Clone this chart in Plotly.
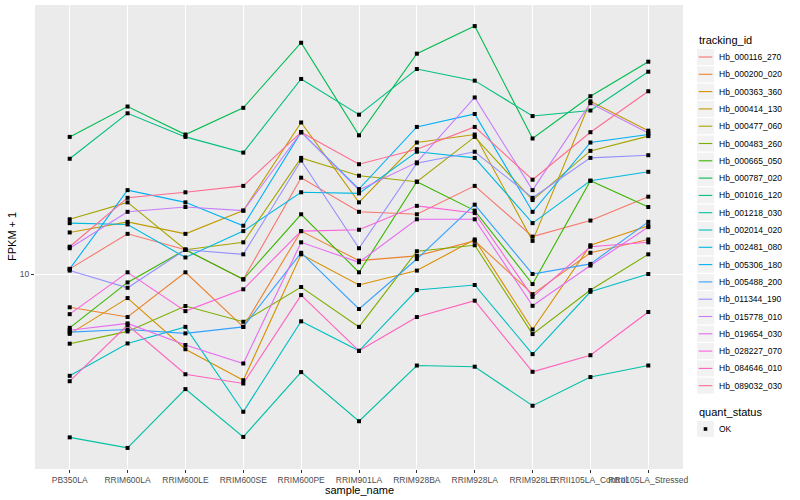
import math
import plotly.graph_objects as go

samples = ["PB350LA", "RRIM600LA", "RRIM600LE", "RRIM600SE", "RRIM600PE", "RRIM901LA",
           "RRIM928BA", "RRIM928LA", "RRIM928LE", "RRII105LA_Control", "RRII105LA_Stressed"]

tracking_ids = ["Hb_000116_270", "Hb_000200_020", "Hb_000363_360", "Hb_000414_130",
                "Hb_000477_060", "Hb_000483_260", "Hb_000665_050", "Hb_000787_020",
                "Hb_001016_120", "Hb_001218_030", "Hb_002014_020", "Hb_002481_080",
                "Hb_005306_180", "Hb_005488_200", "Hb_011344_190", "Hb_015778_010",
                "Hb_019654_030", "Hb_028227_070", "Hb_084646_010", "Hb_089032_030"]

colors = ["#F8766D", "#EA8331", "#D89000", "#C09B00", "#A3A500", "#7CAE00", "#39B600",
          "#00BB4E", "#00BF7D", "#00C1A3", "#00BFC4", "#00BAE0", "#00B0F6", "#35A2FF",
          "#9590FF", "#C77CFF", "#E76BF3", "#FA62DB", "#FF62BC", "#FF6C91"]

# FPKM + 1 per sample (same order as samples)
hb_000116_270 = [10.3, 12.6, 11.5, 9.70, 17.4, 14.3, 14.1, 16.6, 12.4, 13.6, 15.6]
hb_000200_020 = [8.26, 7.81, 10.1, 7.38, 12.8, 10.8, 11.1, 12.1, 8.91, 11.3, 12.2]
hb_000363_360 = [7.09, 8.71, 6.49, 5.43, 11.2, 9.39, 10.2, 12.2, 7.27, 11.8, 13.2]
hb_000414_130 = [12.7, 13.5, 12.6, 14.4, 23.9, 15.1, 21.3, 22.3, 12.1, 27.0, 22.8]
hb_000477_060 = [13.7, 15.1, 11.5, 12.0, 19.5, 17.6, 17.0, 22.0, 15.3, 20.3, 22.1]
hb_000483_260 = [6.70, 7.19, 8.32, 7.60, 9.28, 7.38, 11.4, 11.8, 7.08, 9.12, 11.2]
hb_000665_050 = [7.34, 9.53, 11.5, 9.70, 14.1, 10.1, 17.0, 14.4, 9.44, 17.1, 14.7]
hb_000787_020 = [22.0, 26.2, 22.3, 26.0, 37.8, 22.2, 35.5, 41.6, 21.8, 27.8, 33.9]
hb_001016_120 = [19.4, 25.2, 22.0, 20.1, 30.7, 25.0, 32.5, 30.4, 24.8, 25.6, 32.0]
hb_001218_030 = [3.91, 3.68, 5.16, 3.92, 5.69, 4.29, 5.91, 5.87, 4.69, 5.53, 5.91]
hb_002014_020 = [5.57, 6.71, 7.38, 4.53, 7.62, 6.43, 9.12, 9.39, 6.31, 9.03, 10.0]
hb_002481_080 = [13.4, 13.3, 11.0, 12.8, 16.0, 15.9, 20.2, 19.5, 13.4, 17.1, 18.0]
hb_005306_180 = [10.3, 16.2, 15.1, 13.2, 22.6, 16.3, 23.3, 25.1, 14.3, 21.3, 22.3]
hb_005488_200 = [7.16, 7.27, 7.11, 7.38, 11.3, 8.18, 10.9, 14.9, 10.0, 10.6, 13.5]
hb_011344_190 = [10.2, 9.24, 11.5, 11.2, 19.2, 11.6, 18.9, 20.2, 15.5, 19.5, 19.8]
hb_015778_010 = [11.6, 14.3, 14.7, 14.4, 22.6, 16.2, 19.0, 27.6, 16.2, 26.7, 22.5]
hb_019654_030 = [7.24, 7.53, 6.65, 5.98, 12.0, 10.7, 13.7, 13.7, 8.33, 10.5, 13.1]
hb_028227_070 = [7.94, 10.1, 8.08, 9.16, 12.8, 12.9, 14.8, 14.2, 8.77, 11.7, 12.0]
hb_084646_010 = [5.40, 7.46, 5.62, 5.33, 8.86, 6.43, 7.81, 8.58, 5.70, 6.27, 8.04]
hb_089032_030 = [11.7, 15.5, 16.0, 16.6, 22.6, 18.8, 20.5, 23.3, 17.2, 22.6, 28.6]

series = [hb_000116_270, hb_000200_020, hb_000363_360, hb_000414_130, hb_000477_060,
          hb_000483_260, hb_000665_050, hb_000787_020, hb_001016_120, hb_001218_030,
          hb_002014_020, hb_002481_080, hb_005306_180, hb_005488_200, hb_011344_190,
          hb_015778_010, hb_019654_030, hb_028227_070, hb_084646_010, hb_089032_030]

quant_status = ["OK"]
y_ticks = [10]

FONT = "Liberation Sans, Arial, Helvetica, sans-serif"
W, H = 800, 500
L, R, T, B = 35, 117, 5, 31
PW, PH = W - L - R, H - T - B

fig = go.Figure()

for tid, col, vals in zip(tracking_ids, colors, series):
    fig.add_trace(go.Scatter(x=samples, y=vals, mode="lines", name=tid,
                             line=dict(color=col, width=1.1), showlegend=False,
                             hoverinfo="skip"))

all_x, all_y = [], []
for vals in series:
    all_x += samples
    all_y += vals
fig.add_trace(go.Scatter(x=all_x, y=all_y, mode="markers", name=quant_status[0],
                         marker=dict(symbol="square", size=4, color="black"),
                         showlegend=False))

lo = math.log10(min(all_y))
hi = math.log10(max(all_y))
pad = (hi - lo) * 0.05

fig.update_layout(
    width=W, height=H,
    margin=dict(l=L, r=R, t=T, b=B, pad=0),
    paper_bgcolor="white", plot_bgcolor="#EBEBEB",
    font=dict(family=FONT, size=9, color="#4D4D4D"),
    xaxis=dict(type="category", categoryorder="array", categoryarray=samples,
               range=[-0.6, len(samples) - 0.4], tickangle=0,
               showgrid=True, gridcolor="white", gridwidth=1.1,
               ticks="outside", ticklen=3, tickcolor="#333333", tickwidth=1,
               tickfont=dict(size=8.5, color="#4D4D4D", family=FONT),
               zeroline=False, showline=False),
    yaxis=dict(type="log", range=[lo - pad, hi + pad],
               tickvals=y_ticks, ticktext=[str(v) for v in y_ticks],
               showgrid=True, gridcolor="white", gridwidth=1.1,
               ticks="outside", ticklen=3, tickcolor="#333333", tickwidth=1,
               tickfont=dict(size=8.5, color="#4D4D4D", family=FONT),
               zeroline=False, showline=False),
)

def px_to_paper(px, py):
    return (px - L) / PW, (H - B - py) / PH

annotations = []
shapes = []

# axis titles
ax, ay = px_to_paper(359, 490)
annotations.append(dict(x=ax, y=ay, xref="paper", yref="paper", text="sample_name",
                        showarrow=False, font=dict(size=11, color="black", family=FONT),
                        xanchor="center", yanchor="middle"))
ax, ay = px_to_paper(12, 237)
annotations.append(dict(x=ax, y=ay, xref="paper", yref="paper", text="FPKM + 1",
                        showarrow=False, textangle=-90,
                        font=dict(size=11, color="black", family=FONT),
                        xanchor="center", yanchor="middle"))

# legend: tracking_id
lx0 = 697
tx, ty = px_to_paper(lx0, 40)
annotations.append(dict(x=tx, y=ty, xref="paper", yref="paper", text="tracking_id",
                        showarrow=False, xanchor="left", yanchor="middle",
                        font=dict(size=11, color="black", family=FONT)))
row0, step, key = 57.0, 17.3, 17.0
for i, (tid, col) in enumerate(zip(tracking_ids, colors)):
    cy = row0 + i * step
    x0, y0 = px_to_paper(lx0, cy - key / 2 + 0.5)
    x1, y1 = px_to_paper(lx0 + key, cy + key / 2 - 0.5)
    shapes.append(dict(type="rect", xref="paper", yref="paper", x0=x0, x1=x1, y0=y0, y1=y1,
                       fillcolor="#F2F2F2", line=dict(width=0), layer="above"))
    a0, b0 = px_to_paper(lx0 + 1.7, cy)
    a1, _ = px_to_paper(lx0 + key - 1.7, cy)
    shapes.append(dict(type="line", xref="paper", yref="paper", x0=a0, x1=a1, y0=b0, y1=b0,
                       line=dict(color=col, width=1.1), layer="above"))
    tx, ty = px_to_paper(lx0 + key + 3, cy)
    annotations.append(dict(x=tx, y=ty, xref="paper", yref="paper", text=tid,
                            showarrow=False, xanchor="left", yanchor="middle",
                            font=dict(size=8.5, color="black", family=FONT)))

# legend: quant_status
tx, ty = px_to_paper(lx0, 412)
annotations.append(dict(x=tx, y=ty, xref="paper", yref="paper", text="quant_status",
                        showarrow=False, xanchor="left", yanchor="middle",
                        font=dict(size=11, color="black", family=FONT)))
for j, qs in enumerate(quant_status):
    cy = 429 + j * step
    x0, y0 = px_to_paper(lx0, cy - key / 2 + 0.5)
    x1, y1 = px_to_paper(lx0 + key, cy + key / 2 - 0.5)
    shapes.append(dict(type="rect", xref="paper", yref="paper", x0=x0, x1=x1, y0=y0, y1=y1,
                       fillcolor="#F2F2F2", line=dict(width=0), layer="above"))
    m0, n0 = px_to_paper(lx0 + key / 2 - 1.8, cy - 1.8)
    m1, n1 = px_to_paper(lx0 + key / 2 + 1.8, cy + 1.8)
    shapes.append(dict(type="rect", xref="paper", yref="paper", x0=m0, x1=m1, y0=n0, y1=n1,
                       fillcolor="black", line=dict(width=0), layer="above"))
    tx, ty = px_to_paper(lx0 + key + 3, cy)
    annotations.append(dict(x=tx, y=ty, xref="paper", yref="paper", text=qs,
                            showarrow=False, xanchor="left", yanchor="middle",
                            font=dict(size=8.5, color="black", family=FONT)))

fig.update_layout(annotations=annotations, shapes=shapes)
fig.write_html("out.html", config={"displayModeBar": False},
               post_script="document.body.style.margin='0px';document.body.style.overflow='hidden';")
